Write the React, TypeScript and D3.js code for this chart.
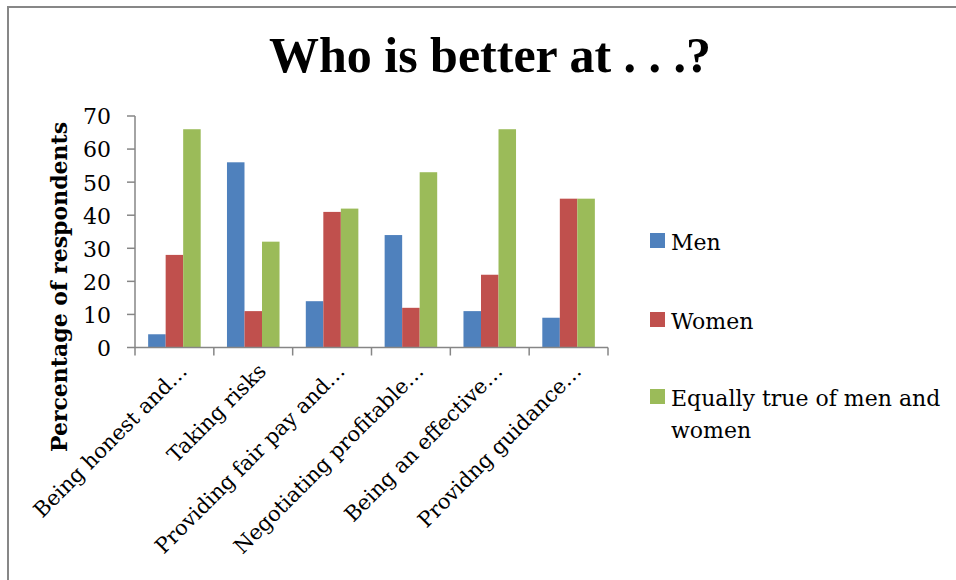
import React, { useEffect, useRef } from "react";
import * as d3 from "d3";

const categories = [
  "Being honest and…",
  "Taking risks",
  "Providing fair pay and…",
  "Negotiating profitable…",
  "Being an effective…",
  "Providng guidance…",
];
const seriesNames = ["Men", "Women", "Equally true of men and women"];
const men = [4, 56, 14, 34, 11, 9];
const women = [28, 11, 41, 12, 22, 45];
const equally = [66, 32, 42, 53, 66, 45];
const yTicks = [0, 10, 20, 30, 40, 50, 60, 70];
const colors = ["#4F81BD", "#C0504D", "#9BBB59"];

const FONT = "'DejaVu Serif', 'Liberation Serif', serif";
const TITLE_FONT = "'Liberation Serif', 'DejaVu Serif', serif";

export default function App() {
  const ref = useRef<SVGSVGElement>(null);
  useEffect(() => {
    document.body.style.margin = "0";
    const svg = d3.select(ref.current);
    svg.selectAll("*").remove();
    const W = 956, H = 580;
    const left = 135, right = 608, top = 116, bottom = 347.5;
    const values = [men, women, equally];

    svg.append("rect").attr("width", W).attr("height", H).attr("fill", "#fff");
    svg.append("rect").attr("x", 8).attr("y", 7).attr("width", W + 20).attr("height", H + 20)
      .attr("fill", "none").attr("stroke", "#878787").attr("stroke-width", 2);

    svg.append("text").attr("x", 490).attr("y", 72).attr("text-anchor", "middle")
      .attr("font-family", TITLE_FONT).attr("font-weight", "bold").attr("font-size", 50)
      .text("Who is better at . . .?");

    const x0 = d3.scaleBand<string>().domain(categories).range([left, right]).paddingInner(0).paddingOuter(0);
    const x1 = d3.scaleBand<string>().domain(seriesNames).range([0, x0.bandwidth()]).paddingInner(0).paddingOuter(0.75);
    const y = d3.scaleLinear().domain([0, 70]).range([bottom, top]);

    const g = svg.append("g");
    categories.forEach((c, i) => {
      seriesNames.forEach((s, j) => {
        const v = values[j][i];
        g.append("rect")
          .attr("x", (x0(c) as number) + (x1(s) as number))
          .attr("y", y(v))
          .attr("width", x1.bandwidth())
          .attr("height", y(0) - y(v))
          .attr("fill", colors[j]);
      });
    });

    const axisColor = "#868686";
    svg.append("line").attr("x1", left).attr("x2", left).attr("y1", top).attr("y2", bottom)
      .attr("stroke", axisColor).attr("stroke-width", 1.5);
    yTicks.forEach((t) => {
      svg.append("line").attr("x1", left - 8).attr("x2", left).attr("y1", y(t)).attr("y2", y(t))
        .attr("stroke", axisColor).attr("stroke-width", 1.5);
      svg.append("text").attr("x", left - 24).attr("y", y(t)).attr("dy", "0.38em")
        .attr("text-anchor", "end").attr("font-family", FONT).attr("font-size", 22)
        .text(String(t));
    });
    svg.append("line").attr("x1", left).attr("x2", right).attr("y1", bottom).attr("y2", bottom)
      .attr("stroke", axisColor).attr("stroke-width", 1.5);
    const bounds = [...categories.map((c) => x0(c) as number), right];
    bounds.forEach((b) => {
      svg.append("line").attr("x1", b).attr("x2", b).attr("y1", bottom).attr("y2", bottom + 8)
        .attr("stroke", axisColor).attr("stroke-width", 1.5);
    });
    categories.forEach((c) => {
      const cx = (x0(c) as number) + x0.bandwidth() / 2;
      svg.append("text")
        .attr("transform", `translate(${cx + 14},${bottom + 25}) rotate(-45)`)
        .attr("text-anchor", "end").attr("font-family", FONT).attr("font-size", 21)
        .text(c);
    });

    svg.append("text")
      .attr("transform", `translate(67,287) rotate(-90)`)
      .attr("text-anchor", "middle").attr("font-family", FONT).attr("font-weight", "bold").attr("font-size", 22)
      .text("Percentage of respondents");

    const legendY = [233, 312, 389];
    const legendLines = [["Men"], ["Women"], ["Equally true of men and", "women"]];
    legendLines.forEach((lines, j) => {
      svg.append("rect").attr("x", 650).attr("y", legendY[j]).attr("width", 15).attr("height", 15)
        .attr("fill", colors[j]);
      lines.forEach((ln, k) => {
        svg.append("text").attr("x", 671).attr("y", legendY[j] + 17 + k * 32)
          .attr("font-family", FONT).attr("font-size", 22).text(ln);
      });
    });
  }, []);
  return <svg ref={ref} width={956} height={580} style={{ display: "block" }} />;
}
